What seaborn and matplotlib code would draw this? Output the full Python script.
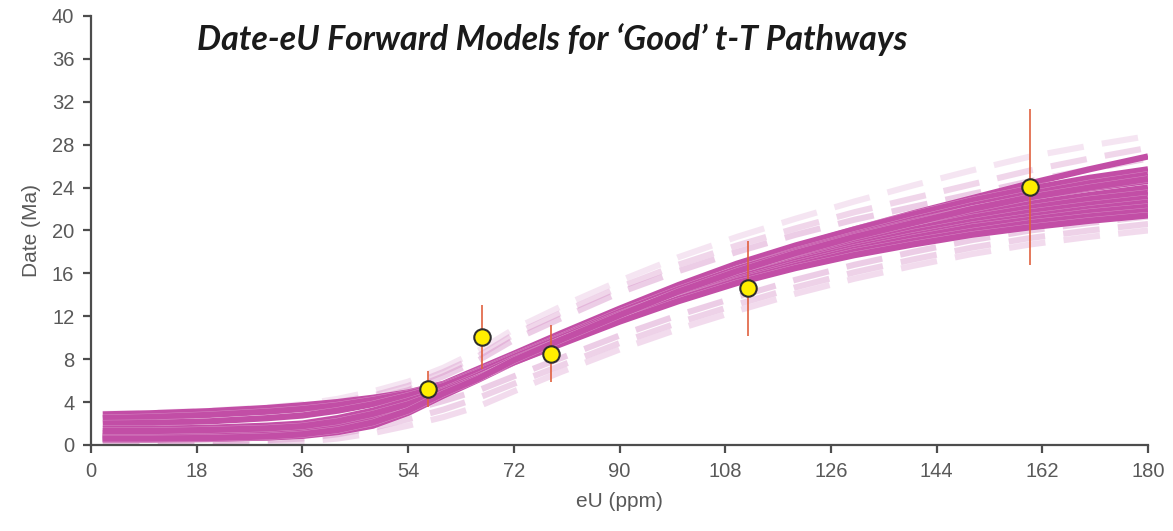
import matplotlib
matplotlib.use("Agg")
import matplotlib.pyplot as plt
import matplotlib.patheffects as pe
import numpy as np
import pandas as pd
import seaborn as sns

# eU grid shared by every forward model
eu_grid = [2, 10, 20, 30, 36, 42, 48, 54, 60, 66, 72, 80, 90, 100, 110, 120, 130, 140, 150, 160, 170, 180]

# Accepted ("good") t-T pathway forward models: predicted date (Ma) on eu_grid
good_a = [0.8, 0.8, 0.85, 1.0, 1.2, 1.6, 2.4, 3.5, 5.0, 6.6, 8.3, 10.2, 12.5, 14.7, 16.7, 18.5, 20.1, 21.6, 23.0, 24.4, 25.7, 26.9]
good_b = [2.85, 2.95, 3.15, 3.45, 3.7, 4.0, 4.4, 4.9, 5.7, 7.1, 8.5, 10.4, 12.7, 14.9, 16.9, 18.6, 20.1, 21.5, 22.8, 23.9, 24.9, 25.7]
good_c = [0.5, 0.5, 0.55, 0.7, 0.9, 1.3, 2.0, 3.1, 4.7, 6.3, 8.0, 9.9, 12.2, 14.4, 16.4, 18.1, 19.6, 21.0, 22.3, 23.4, 24.4, 25.2]
good_d = [2.5, 2.6, 2.8, 3.1, 3.35, 3.7, 4.2, 4.8, 5.6, 6.9, 8.3, 10.1, 12.4, 14.5, 16.4, 18.0, 19.5, 20.8, 22.0, 23.0, 23.9, 24.6]
good_e = [1.1, 1.1, 1.2, 1.35, 1.55, 2.0, 2.7, 3.7, 5.0, 6.5, 8.1, 9.9, 12.1, 14.2, 16.1, 17.7, 19.1, 20.4, 21.5, 22.5, 23.3, 24.0]
good_f = [2.0, 2.05, 2.2, 2.5, 2.75, 3.2, 3.8, 4.6, 5.5, 6.8, 8.2, 10.0, 12.2, 14.2, 16.0, 17.5, 18.9, 20.1, 21.2, 22.1, 22.9, 23.5]
good_g = [0.7, 0.7, 0.75, 0.9, 1.1, 1.5, 2.2, 3.3, 4.8, 6.2, 7.9, 9.7, 11.9, 13.9, 15.7, 17.2, 18.6, 19.8, 20.8, 21.7, 22.4, 23.0]
good_h = [1.5, 1.5, 1.6, 1.8, 2.0, 2.5, 3.2, 4.1, 5.1, 6.5, 8.0, 9.8, 11.9, 13.9, 15.6, 17.1, 18.4, 19.5, 20.5, 21.3, 22.0, 22.6]
good_i = [0.55, 0.55, 0.6, 0.7, 0.85, 1.2, 1.8, 3.0, 4.6, 6.1, 7.7, 9.5, 11.6, 13.6, 15.4, 16.9, 18.2, 19.3, 20.3, 21.0, 21.7, 22.2]
good_j = [0.9, 0.9, 0.95, 1.1, 1.3, 1.7, 2.5, 3.5, 4.9, 6.3, 7.8, 9.6, 11.7, 13.6, 15.3, 16.7, 18.0, 19.0, 19.9, 20.7, 21.3, 21.8]
good_k = [1.3, 1.3, 1.4, 1.55, 1.75, 2.2, 2.9, 3.8, 5.0, 6.3, 7.7, 9.4, 11.5, 13.4, 15.1, 16.5, 17.7, 18.7, 19.6, 20.3, 20.9, 21.4]
good_l = [0.6, 0.6, 0.65, 0.8, 1.0, 1.4, 2.1, 3.2, 4.8, 6.2, 7.9, 9.8, 12.1, 14.3, 16.2, 17.9, 19.4, 20.7, 22.0, 23.1, 24.0, 24.8]

# Envelope models (dashed): upper and lower bounding paths
upper_1 = [2.9, 3.0, 3.2, 3.5, 3.8, 4.3, 5.0, 5.9, 7.2, 8.8, 10.8, 12.9, 15.3, 17.5, 19.4, 21.1, 22.7, 24.2, 25.6, 26.9, 27.9, 28.8]
upper_2 = [2.6, 2.7, 2.9, 3.2, 3.5, 4.0, 4.6, 5.5, 6.8, 8.3, 10.3, 12.3, 14.7, 16.8, 18.6, 20.2, 21.7, 23.0, 24.3, 25.6, 26.7, 27.7]
upper_3 = [2.3, 2.4, 2.6, 2.9, 3.2, 3.7, 4.3, 5.1, 6.4, 7.9, 9.8, 11.8, 14.2, 16.2, 18.0, 19.6, 21.0, 22.2, 23.4, 24.6, 25.7, 26.7]
lower_1 = [0.6, 0.6, 0.65, 0.8, 1.0, 1.5, 2.3, 3.2, 4.1, 5.1, 6.4, 8.1, 10.2, 12.1, 13.8, 15.4, 16.8, 18.0, 19.1, 20.0, 20.7, 21.3]
lower_2 = [0.3, 0.3, 0.35, 0.45, 0.6, 1.0, 1.6, 2.4, 3.3, 4.4, 5.7, 7.4, 9.5, 11.4, 13.1, 14.7, 16.1, 17.3, 18.4, 19.3, 20.0, 20.6]
lower_3 = [0.1, 0.1, 0.15, 0.2, 0.3, 0.6, 1.1, 1.8, 2.6, 3.6, 5.0, 6.8, 8.9, 10.8, 12.5, 14.1, 15.5, 16.7, 17.8, 18.7, 19.4, 20.0]

# Measured single-grain dates with 2-sigma uncertainty
grain_eu = [57.4, 66.6, 78.3, 111.9, 159.9]
grain_date = [5.2, 10.05, 8.5, 14.6, 24.05]
grain_err = [1.7, 3.0, 2.65, 4.4, 7.3]

title_text = "Date-eU Forward Models for \u2018Good\u2019 t-T Pathways"
x_label = "eU (ppm)"
y_label = "Date (Ma)"
x_ticks = [0, 18, 36, 54, 72, 90, 108, 126, 144, 162, 180]
y_ticks = [0, 4, 8, 12, 16, 20, 24, 28, 32, 36, 40]

good_models = {"a": good_a, "b": good_b, "c": good_c, "d": good_d, "e": good_e, "f": good_f,
               "g": good_g, "h": good_h, "i": good_i, "j": good_j, "k": good_k, "l": good_l}
envelope_models = {"u1": upper_1, "u2": upper_2, "u3": upper_3,
                   "l1": lower_1, "l2": lower_2, "l3": lower_3}


def long_form(models):
    rows = []
    for name, dates in models.items():
        for x, y in zip(eu_grid, dates):
            rows.append({"model": name, "eU": x, "date": y})
    return pd.DataFrame(rows)


good_df = long_form(good_models)
env_df = long_form(envelope_models)
grain_df = pd.DataFrame({"eU": grain_eu, "date": grain_date, "err": grain_err})

sns.set_theme(style="white")
plt.rcParams["font.family"] = ["Liberation Sans", "DejaVu Sans"]

fig = plt.figure(figsize=(11.73, 5.31), dpi=100)
ax = fig.add_axes([0.0776, 0.162, 0.9011, 0.808])

magenta = "#c24ea6"
pink = "#d48ac5"

# dashed envelope, drawn underneath the accepted paths
for name, alpha in zip(envelope_models, [0.22, 0.35, 0.42, 0.42, 0.38, 0.3]):
    sub = env_df[env_df["model"] == name]
    sns.lineplot(data=sub, x="eU", y="date", ax=ax, color=pink, alpha=alpha,
                 lw=4.4, linestyle=(0, (6, 3)), estimator=None, sort=False,
                 legend=False, zorder=1)

# accepted forward models
for name in good_models:
    sub = good_df[good_df["model"] == name]
    sns.lineplot(data=sub, x="eU", y="date", ax=ax, color=magenta, lw=4.5,
                 estimator=None, sort=False, legend=False, zorder=2,
                 path_effects=[pe.Stroke(linewidth=5.1, foreground=(1, 1, 1, 0.35)), pe.Normal()],
                 solid_capstyle="butt")

# measured grains
ax.errorbar(grain_df["eU"], grain_df["date"], yerr=grain_df["err"], fmt="none",
            ecolor="#e0613f", elinewidth=1.2, capsize=0, zorder=3)
sns.scatterplot(data=grain_df, x="eU", y="date", ax=ax, s=140, color="#ffee00",
                edgecolor="#2e2e2e", linewidth=1.5, zorder=4, legend=False)

ax.set_xlim(0, 180)
ax.set_ylim(0, 40)
ax.set_xticks(x_ticks)
ax.set_yticks(y_ticks)
ax.set_xticklabels([str(t) for t in x_ticks])
ax.set_yticklabels([str(t) for t in y_ticks])

spine_col = "#4d4d4d"
text_col = "#595959"
sns.despine(ax=ax)
for side in ("left", "bottom"):
    ax.spines[side].set_color(spine_col)
    ax.spines[side].set_linewidth(1.6)
ax.tick_params(axis="both", direction="out", length=6, width=1.6, color=spine_col,
               labelcolor=text_col, labelsize=14.5, pad=6)
ax.tick_params(axis="x", bottom=True)
ax.tick_params(axis="y", left=True)
ax.set_xlabel(x_label, fontsize=15, color=text_col, labelpad=8)
ax.set_ylabel(y_label, fontsize=15, color=text_col, labelpad=8)
ax.grid(False)

fig.text(0.168, 0.925, title_text, fontsize=24.5, fontweight="bold", fontstyle="italic",
         family=["Lato", "DejaVu Sans"], color="#1a1a1a", ha="left", va="center")

fig.savefig("out.png", dpi=100, facecolor="white")
